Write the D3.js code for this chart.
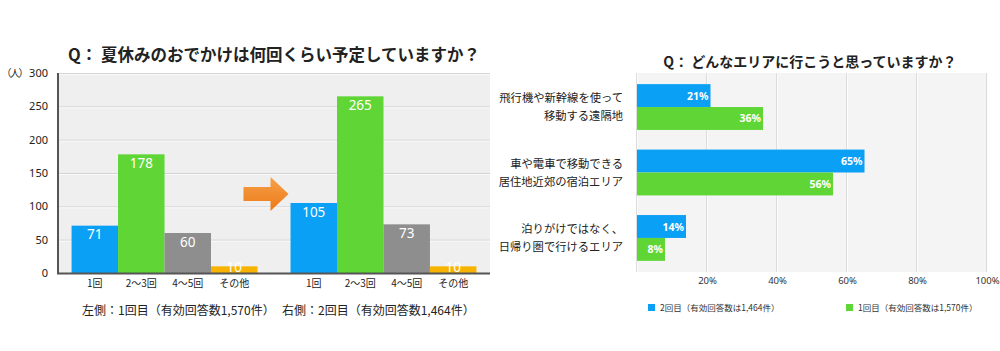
<!DOCTYPE html>
<html>
<head>
<meta charset="utf-8">
<script src="https://cdn.jsdelivr.net/npm/d3@7"></script>
<style>
  body { margin: 0; background: #fff; }
  svg { display: block; font-family: "Noto Sans CJK JP", "Noto Sans", sans-serif; }
</style>
</head>
<body>
<svg id="chart" width="1000" height="351"></svg>
<script>
// left chart: how many outings
var countCats = ["1回", "2～3回", "4～5回", "その他"];
var firstCounts = [71, 178, 60, 10];
var secondCounts = [105, 265, 73, 10];
var countTicks = [0, 50, 100, 150, 200, 250, 300];
var countColors = ["#0aa0f5", "#5fd636", "#8e8e8e", "#f7b300"];

// right chart: which area
var areaLabels = [
    ["飛行機や新幹線を使って", "移動する遠隔地"],
    ["車や電車で移動できる", "居住地近郊の宿泊エリア"],
    ["泊りがけではなく、", "日帰り圏で行けるエリア"]
];
var secondPct = [21, 65, 14];
var firstPct = [36, 56, 8];
var pctTicks = [20, 40, 60, 80, 100];
var legendNames = ["2回目（有効回答数は1,464件）", "1回目（有効回答数は1,570件）"];

var svg = d3.select("#chart");
var textColor = "#222";

// ---------- LEFT CHART ----------
var L = { left: 58, right: 490, top: 73, bottom: 273 };
var yL = d3.scaleLinear().domain([0, 300]).range([L.bottom, L.top]);
var groupX = d3.scaleBand().domain([0, 1]).range([L.left, L.right])
    .paddingInner(0.151).paddingOuter(0.062);
var catX = d3.scaleBand().domain(countCats).range([0, groupX.bandwidth()]).padding(0);

svg.append("text")
    .attr("x", 274).attr("y", 61)
    .attr("text-anchor", "middle")
    .attr("font-size", 16.5).attr("font-weight", "bold")
    .attr("fill", textColor)
    .text("Q：  夏休みのおでかけは何回くらい予定していますか？");

svg.append("rect")
    .attr("x", L.left).attr("y", L.top)
    .attr("width", L.right - L.left).attr("height", L.bottom - L.top)
    .attr("fill", "#efefef");

var gridL = svg.append("g");
countTicks.forEach(function (t) {
    if (t === 0) { return; }
    gridL.append("line")
        .attr("x1", L.left).attr("x2", L.right)
        .attr("y1", yL(t) + 0.5).attr("y2", yL(t) + 0.5)
        .attr("stroke", "#d4d4d4");
    gridL.append("line")
        .attr("x1", L.left).attr("x2", L.right)
        .attr("y1", yL(t) + 1.5).attr("y2", yL(t) + 1.5)
        .attr("stroke", "#fafafa");
});

var yAxisL = d3.axisLeft(yL).tickValues(countTicks).tickSize(0).tickPadding(10);
var yg = svg.append("g").attr("transform", "translate(" + L.left + ",0)").call(yAxisL);
yg.select(".domain").remove();
yg.selectAll("text").attr("font-size", 11).attr("fill", textColor)
    .attr("font-family", "'Noto Sans', sans-serif");

svg.append("text")
    .attr("x", 27).attr("y", yL(300) + 4)
    .attr("text-anchor", "end")
    .attr("font-size", 10).attr("letter-spacing", -1.5).attr("fill", textColor)
    .text("（人）");

[firstCounts, secondCounts].forEach(function (series, gi) {
    var g = svg.append("g").attr("transform", "translate(" + groupX(gi) + ",0)");
    g.selectAll("rect").data(series).enter().append("rect")
        .attr("x", function (d, i) { return catX(countCats[i]); })
        .attr("y", function (d) { return yL(d); })
        .attr("width", catX.bandwidth())
        .attr("height", function (d) { return yL(0) - yL(d); })
        .attr("fill", function (d, i) { return countColors[i]; });
    g.selectAll(".val").data(series).enter().append("text")
        .attr("class", "val")
        .attr("x", function (d, i) { return catX(countCats[i]) + catX.bandwidth() / 2; })
        .attr("y", function (d) { return Math.min(yL(d) + 13.5, yL(0) - 1); })
        .attr("text-anchor", "middle")
        .attr("font-size", 13.5).attr("fill", "#fff")
        .attr("font-family", "'Noto Sans', sans-serif")
        .text(function (d) { return d; });
    g.selectAll(".cat").data(countCats).enter().append("text")
        .attr("class", "cat")
        .attr("x", function (d) { return catX(d) + catX.bandwidth() / 2; })
        .attr("y", 287)
        .attr("text-anchor", "middle")
        .attr("font-size", 10).attr("fill", textColor)
        .text(function (d) { return d; });
});

// axis lines
svg.append("line")
    .attr("x1", L.left).attr("x2", L.left).attr("y1", L.top).attr("y2", L.bottom + 1)
    .attr("stroke", "#555").attr("stroke-width", 2);
svg.append("line")
    .attr("x1", L.left - 1).attr("x2", L.right).attr("y1", L.bottom + 0.5).attr("y2", L.bottom + 0.5)
    .attr("stroke", "#555").attr("stroke-width", 2);

// arrow between groups
var defs = svg.append("defs");
var grad = defs.append("linearGradient").attr("id", "arrowGrad")
    .attr("x1", 0).attr("y1", 0).attr("x2", 0).attr("y2", 1);
grad.append("stop").attr("offset", "0%").attr("stop-color", "#f6a04a");
grad.append("stop").attr("offset", "100%").attr("stop-color", "#ec7a16");
var ax0 = groupX(0) + groupX.bandwidth() - 14, ax1 = groupX(1) - 2, ay = 194;
svg.append("path")
    .attr("d", "M" + ax0 + "," + (ay - 7) + "L" + (ax1 - 18) + "," + (ay - 7) +
        "L" + (ax1 - 18) + "," + (ay - 17) + "L" + ax1 + "," + ay +
        "L" + (ax1 - 18) + "," + (ay + 17) + "L" + (ax1 - 18) + "," + (ay + 7) +
        "L" + ax0 + "," + (ay + 7) + "Z")
    .attr("fill", "url(#arrowGrad)");

svg.append("text")
    .attr("x", 82).attr("y", 315)
    .attr("font-size", 12).attr("fill", textColor)
    .text("左側：1回目（有効回答数1,570件）");
svg.append("text")
    .attr("x", 282).attr("y", 315)
    .attr("font-size", 12).attr("fill", textColor)
    .text("右側：2回目（有効回答数1,464件）");

// ---------- RIGHT CHART ----------
var R = { left: 637, right: 987, top: 73, bottom: 272 };
var xR = d3.scaleLinear().domain([0, 100]).range([R.left, R.right]);
var yR = d3.scaleBand().domain(d3.range(areaLabels.length)).range([R.top, R.bottom])
    .paddingInner(0.3).paddingOuter(0.17);
var sub = d3.scaleBand().domain([0, 1]).range([0, yR.bandwidth()]).padding(0);

svg.append("text")
    .attr("x", 810).attr("y", 67)
    .attr("text-anchor", "middle")
    .attr("font-size", 14).attr("font-weight", "bold")
    .attr("fill", textColor)
    .text("Q：  どんなエリアに行こうと思っていますか？");

svg.append("rect")
    .attr("x", R.left).attr("y", R.top)
    .attr("width", R.right - R.left).attr("height", R.bottom - R.top)
    .attr("fill", "#f4f4f4");

var gridR = svg.append("g");
[0].concat(pctTicks).forEach(function (t) {
    gridR.append("line")
        .attr("x1", xR(t) - 0.5).attr("x2", xR(t) - 0.5)
        .attr("y1", R.top).attr("y2", R.bottom)
        .attr("stroke", "#dcdcdc");
    gridR.append("line")
        .attr("x1", xR(t) + 0.5).attr("x2", xR(t) + 0.5)
        .attr("y1", R.top).attr("y2", R.bottom)
        .attr("stroke", "#fcfcfc");
});

var xAxisR = d3.axisBottom(xR).tickValues(pctTicks).tickSize(0).tickPadding(5)
    .tickFormat(function (d) { return d + "%"; });
var xg = svg.append("g").attr("transform", "translate(0," + R.bottom + ")").call(xAxisR);
xg.select(".domain").remove();
xg.selectAll("text").attr("font-size", 9.5).attr("fill", "#333")
    .attr("font-family", "'Noto Sans', sans-serif");

[secondPct, firstPct].forEach(function (series, si) {
    var color = si === 0 ? countColors[0] : countColors[1];
    svg.append("g").selectAll("rect").data(series).enter().append("rect")
        .attr("x", R.left)
        .attr("y", function (d, i) { return yR(i) + sub(si); })
        .attr("width", function (d) { return xR(d) - R.left; })
        .attr("height", sub.bandwidth())
        .attr("fill", color);
    svg.append("g").selectAll("text").data(series).enter().append("text")
        .attr("x", function (d) { return xR(d) - 2; })
        .attr("y", function (d, i) { return yR(i) + sub(si) + sub.bandwidth() / 2 + 4; })
        .attr("text-anchor", "end")
        .attr("font-size", 10.5).attr("font-weight", "bold").attr("fill", "#fff")
        .attr("font-family", "'Noto Sans', sans-serif")
        .text(function (d) { return d + "%"; });
});

areaLabels.forEach(function (lines, i) {
    var cy = yR(i) + yR.bandwidth() / 2;
    var t = svg.append("text")
        .attr("text-anchor", "end")
        .attr("font-size", 11.3).attr("fill", textColor);
    lines.forEach(function (line, j) {
        t.append("tspan")
            .attr("x", 623)
            .attr("y", cy - 5 + j * 18)
            .text(line);
    });
});

// legend
var legX = [648, 846];
legendNames.forEach(function (name, i) {
    svg.append("rect")
        .attr("x", legX[i]).attr("y", 304)
        .attr("width", 7).attr("height", 7)
        .attr("fill", countColors[i]);
    svg.append("text")
        .attr("x", legX[i] + 12).attr("y", 311)
        .attr("font-size", 8.5).attr("fill", "#333")
        .text(name);
});
</script>
</body>
</html>
